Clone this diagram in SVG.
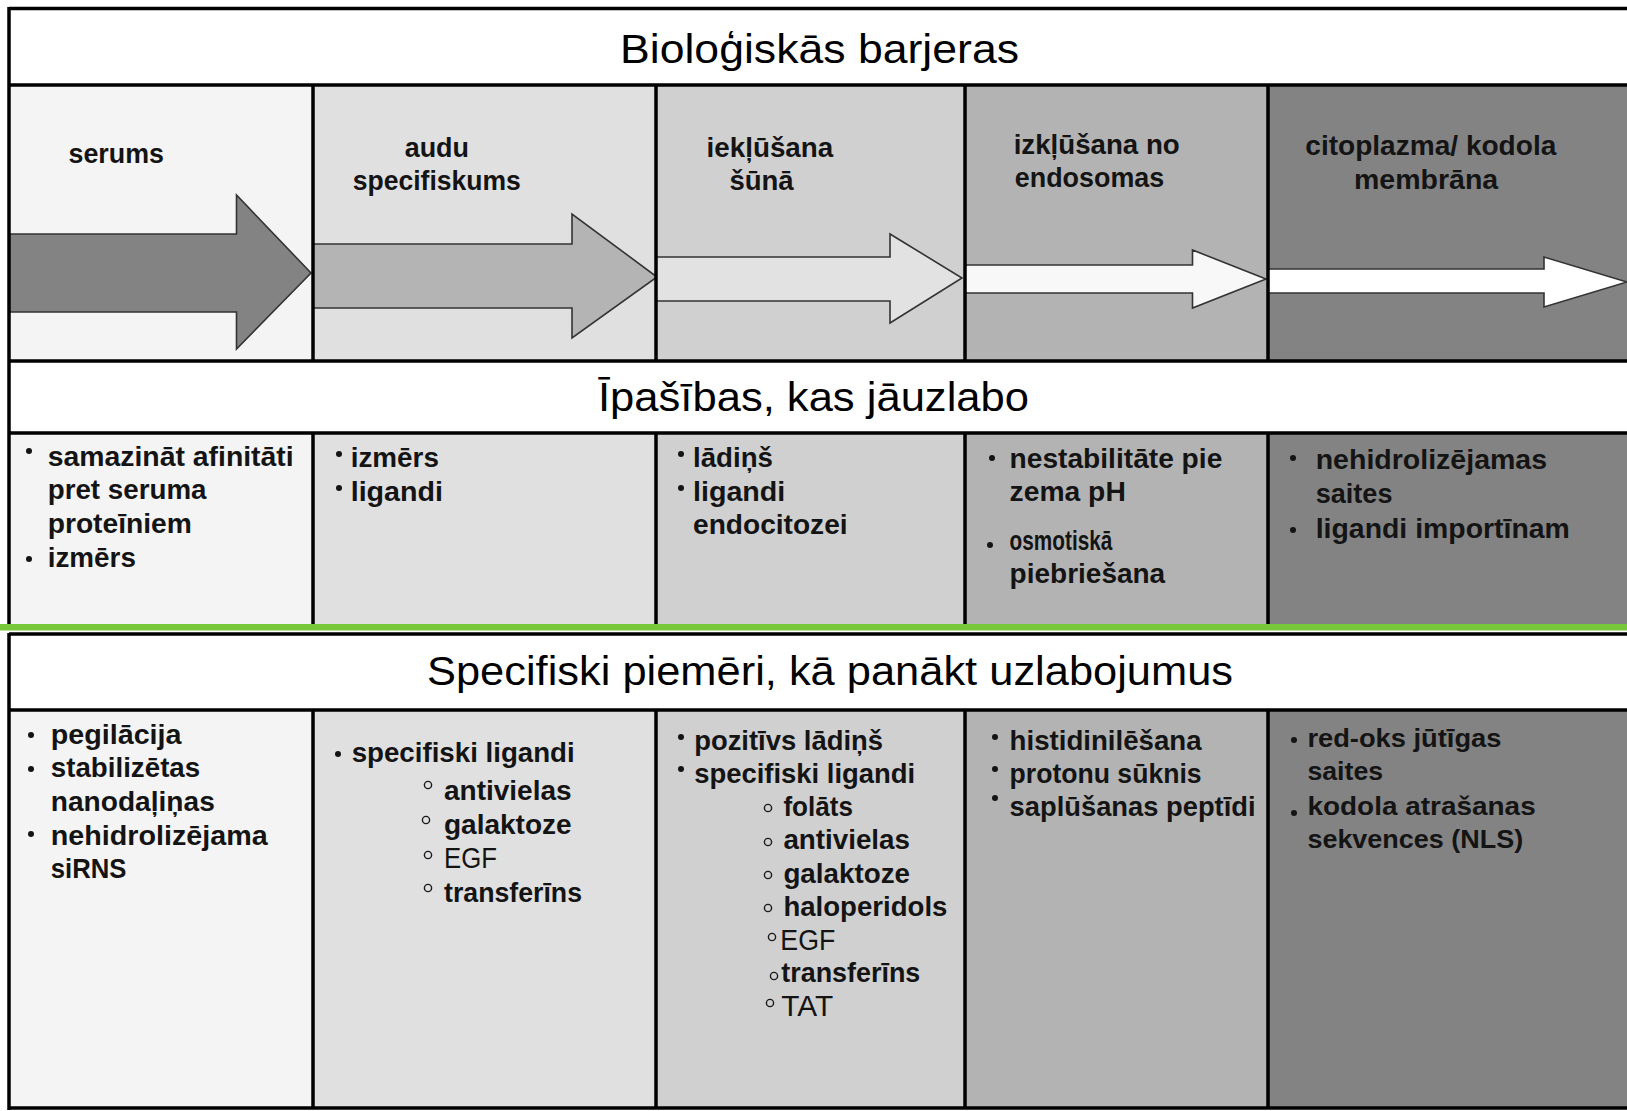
<svg xmlns="http://www.w3.org/2000/svg" width="1627" height="1111" viewBox="0 0 1627 1111">
<style>
.hdr{font-family:"Liberation Sans",Arial,sans-serif;font-size:40px;fill:#000}
.lb{font-family:"Liberation Sans Narrow","Liberation Sans",Arial,sans-serif;font-weight:bold;font-size:28px;fill:#141414}
.lr{font-family:"Liberation Sans",Arial,sans-serif;font-weight:bold;font-size:25px;fill:#141414}
.ln{font-family:"Liberation Sans Narrow","Liberation Sans",Arial,sans-serif;font-size:29px;fill:#141414}
.bul{fill:#141414}
.sub{fill:none;stroke:#1a1a1a;stroke-width:1.4}
.grid{stroke:#000;stroke-width:3.5;fill:none}
.arr{stroke:#333;stroke-width:1.6;stroke-linejoin:miter}
</style>
<rect x="0" y="0" width="1627" height="1111" fill="#fff"/>
<g id="bg">
<rect x="9" y="9" width="1618" height="76" fill="#fff"/>
<rect x="9" y="361" width="1618" height="72" fill="#fff"/>
<rect x="9" y="633" width="1618" height="77" fill="#fff"/>
</g>
<g id="stage-serums">
<rect x="9" y="85" width="304" height="276" fill="#f4f4f4"/>
<text class="lb" x="68.5" y="163" textLength="95.5" lengthAdjust="spacingAndGlyphs">serums</text>
</g>
<g id="stage-audu">
<rect x="313" y="85" width="343" height="276" fill="#e0e0e0"/>
<text class="lb" x="404.7" y="157" textLength="64.3" lengthAdjust="spacingAndGlyphs">audu</text>
<text class="lb" x="352.8" y="190" textLength="168" lengthAdjust="spacingAndGlyphs">specifiskums</text>
</g>
<g id="stage-ieklusana">
<rect x="656" y="85" width="309" height="276" fill="#d0d0d0"/>
<text class="lb" x="706.6" y="157" textLength="126.6" lengthAdjust="spacingAndGlyphs">iekļūšana</text>
<text class="lb" x="729.4" y="190" textLength="64.3" lengthAdjust="spacingAndGlyphs">šūnā</text>
</g>
<g id="stage-izklusana">
<rect x="965" y="85" width="303" height="276" fill="#b3b3b3"/>
<text class="lb" x="1013.7" y="154" textLength="166" lengthAdjust="spacingAndGlyphs">izkļūšana no</text>
<text class="lb" x="1014.8" y="187" textLength="149.4" lengthAdjust="spacingAndGlyphs">endosomas</text>
</g>
<g id="stage-citoplazma">
<rect x="1268" y="85" width="359" height="276" fill="#838383"/>
<text class="lb" x="1305.3" y="155" textLength="251" lengthAdjust="spacingAndGlyphs">citoplazma/ kodola</text>
<text class="lb" x="1354" y="189" textLength="144.2" lengthAdjust="spacingAndGlyphs">membrāna</text>
</g>
<g id="prop-1">
<rect x="9" y="433" width="304" height="194" fill="#f4f4f4"/>
<circle class="bul" cx="29" cy="451" r="3"/>
<text class="lb" x="47.7" y="466" textLength="246" lengthAdjust="spacingAndGlyphs">samazināt afinitāti</text>
<text class="lb" x="47.7" y="499" textLength="158.8" lengthAdjust="spacingAndGlyphs">pret seruma</text>
<text class="lb" x="47.7" y="533" textLength="144.2" lengthAdjust="spacingAndGlyphs">proteīniem</text>
<circle class="bul" cx="29" cy="559" r="3"/>
<text class="lb" x="47.7" y="567" textLength="88.2" lengthAdjust="spacingAndGlyphs">izmērs</text>
</g>
<g id="prop-2">
<rect x="313" y="433" width="343" height="194" fill="#e0e0e0"/>
<circle class="bul" cx="339" cy="454" r="3"/>
<text class="lb" x="350.7" y="467" textLength="88.2" lengthAdjust="spacingAndGlyphs">izmērs</text>
<circle class="bul" cx="339" cy="488" r="3"/>
<text class="lb" x="350.7" y="501" textLength="92.3" lengthAdjust="spacingAndGlyphs">ligandi</text>
</g>
<g id="prop-3">
<rect x="656" y="433" width="309" height="194" fill="#d0d0d0"/>
<circle class="bul" cx="681" cy="454" r="3"/>
<text class="lb" x="693" y="467" textLength="80" lengthAdjust="spacingAndGlyphs">lādiņš</text>
<circle class="bul" cx="681" cy="488" r="3"/>
<text class="lb" x="693" y="501" textLength="92.3" lengthAdjust="spacingAndGlyphs">ligandi</text>
<text class="lb" x="693" y="534" textLength="154.6" lengthAdjust="spacingAndGlyphs">endocitozei</text>
</g>
<g id="prop-4">
<rect x="965" y="433" width="303" height="194" fill="#b3b3b3"/>
<circle class="bul" cx="992" cy="458" r="3"/>
<text class="lb" x="1009.6" y="468" textLength="212.7" lengthAdjust="spacingAndGlyphs">nestabilitāte pie</text>
<text class="lb" x="1009.6" y="501" textLength="116.2" lengthAdjust="spacingAndGlyphs">zema pH</text>
<circle class="bul" cx="990" cy="545" r="3"/>
<text class="lb" x="1009.6" y="550" textLength="102.7" lengthAdjust="spacingAndGlyphs">osmotiskā</text>
<text class="lb" x="1009.6" y="583" textLength="155.6" lengthAdjust="spacingAndGlyphs">piebriešana</text>
</g>
<g id="prop-5">
<rect x="1268" y="433" width="359" height="194" fill="#838383"/>
<circle class="bul" cx="1293" cy="458" r="3"/>
<text class="lb" x="1315.7" y="469" textLength="231.4" lengthAdjust="spacingAndGlyphs">nehidrolizējamas</text>
<text class="lb" x="1315.7" y="503" textLength="76.8" lengthAdjust="spacingAndGlyphs">saites</text>
<circle class="bul" cx="1293" cy="530" r="3"/>
<text class="lb" x="1315.7" y="538" textLength="254.2" lengthAdjust="spacingAndGlyphs">ligandi importīnam</text>
</g>
<g id="ex-1">
<rect x="9" y="710" width="304" height="398" fill="#f4f4f4"/>
<circle class="bul" cx="31" cy="735" r="3"/>
<text class="lb" x="50.8" y="744" textLength="130.7" lengthAdjust="spacingAndGlyphs">pegilācija</text>
<circle class="bul" cx="31" cy="769" r="3"/>
<text class="lb" x="50.8" y="777" textLength="149.4" lengthAdjust="spacingAndGlyphs">stabilizētas</text>
<text class="lb" x="50.8" y="811" textLength="164" lengthAdjust="spacingAndGlyphs">nanodaļiņas</text>
<circle class="bul" cx="31" cy="834" r="3"/>
<text class="lb" x="50.8" y="845" textLength="216.9" lengthAdjust="spacingAndGlyphs">nehidrolizējama</text>
<text class="lb" x="50.8" y="878" textLength="75.7" lengthAdjust="spacingAndGlyphs">siRNS</text>
</g>
<g id="ex-2">
<rect x="313" y="710" width="343" height="398" fill="#e0e0e0"/>
<circle class="bul" cx="338" cy="754" r="3"/>
<text class="lb" x="351.7" y="762" textLength="223" lengthAdjust="spacingAndGlyphs">specifiski ligandi</text>
<circle class="sub" cx="428" cy="785" r="3.6"/>
<text class="lb" x="444" y="800" textLength="127.6" lengthAdjust="spacingAndGlyphs">antivielas</text>
<circle class="sub" cx="426" cy="820" r="3.6"/>
<text class="lb" x="444" y="834" textLength="127.6" lengthAdjust="spacingAndGlyphs">galaktoze</text>
<circle class="sub" cx="428" cy="855" r="3.6"/>
<text class="ln" x="444" y="868" textLength="53" lengthAdjust="spacingAndGlyphs">EGF</text>
<circle class="sub" cx="428" cy="888" r="3.6"/>
<text class="lb" x="444" y="902" textLength="138" lengthAdjust="spacingAndGlyphs">transferīns</text>
</g>
<g id="ex-3">
<rect x="656" y="710" width="309" height="398" fill="#d0d0d0"/>
<circle class="bul" cx="681" cy="737" r="3"/>
<text class="lb" x="694.2" y="750" textLength="188.8" lengthAdjust="spacingAndGlyphs">pozitīvs lādiņš</text>
<circle class="bul" cx="681" cy="769" r="3"/>
<text class="lb" x="694.2" y="783" textLength="221" lengthAdjust="spacingAndGlyphs">specifiski ligandi</text>
<circle class="sub" cx="768" cy="808" r="3.6"/>
<text class="lb" x="783.4" y="816" textLength="69.5" lengthAdjust="spacingAndGlyphs">folāts</text>
<circle class="sub" cx="768" cy="842" r="3.6"/>
<text class="lb" x="783.4" y="849" textLength="126.6" lengthAdjust="spacingAndGlyphs">antivielas</text>
<circle class="sub" cx="768" cy="875" r="3.6"/>
<text class="lb" x="783.4" y="883" textLength="126.6" lengthAdjust="spacingAndGlyphs">galaktoze</text>
<circle class="sub" cx="768" cy="908" r="3.6"/>
<text class="lb" x="783.4" y="916" textLength="164" lengthAdjust="spacingAndGlyphs">haloperidols</text>
<circle class="sub" cx="772" cy="937" r="3.6"/>
<text class="ln" x="780.3" y="950" textLength="55" lengthAdjust="spacingAndGlyphs">EGF</text>
<circle class="sub" cx="774" cy="976" r="3.6"/>
<text class="lb" x="781.3" y="982" textLength="139" lengthAdjust="spacingAndGlyphs">transferīns</text>
<circle class="sub" cx="770" cy="1003" r="3.6"/>
<text class="ln" x="781.3" y="1016" textLength="51.9" lengthAdjust="spacingAndGlyphs">TAT</text>
</g>
<g id="ex-4">
<rect x="965" y="710" width="303" height="398" fill="#b3b3b3"/>
<circle class="bul" cx="995" cy="737" r="3"/>
<text class="lb" x="1009.6" y="750" textLength="192" lengthAdjust="spacingAndGlyphs">histidinilēšana</text>
<circle class="bul" cx="995" cy="769" r="3"/>
<text class="lb" x="1009.6" y="783" textLength="192" lengthAdjust="spacingAndGlyphs">protonu sūknis</text>
<circle class="bul" cx="995" cy="798" r="3"/>
<text class="lb" x="1009.6" y="816" textLength="246" lengthAdjust="spacingAndGlyphs">saplūšanas peptīdi</text>
</g>
<g id="ex-5">
<rect x="1268" y="710" width="359" height="398" fill="#838383"/>
<circle class="bul" cx="1294" cy="740" r="3"/>
<text class="lr" x="1307.4" y="747" textLength="194" lengthAdjust="spacingAndGlyphs">red-oks jūtīgas</text>
<text class="lr" x="1307.4" y="780" textLength="75.7" lengthAdjust="spacingAndGlyphs">saites</text>
<circle class="bul" cx="1294" cy="813" r="3"/>
<text class="lr" x="1307.4" y="815" textLength="228.3" lengthAdjust="spacingAndGlyphs">kodola atrašanas</text>
<text class="lr" x="1307.4" y="848" textLength="215.8" lengthAdjust="spacingAndGlyphs">sekvences (NLS)</text>
</g>
<g id="header-barjeras">
<text class="hdr" x="620" y="63" textLength="399" lengthAdjust="spacingAndGlyphs">Bioloģiskās barjeras</text>
</g>
<g id="header-ipasibas">
<text class="hdr" x="598" y="411" textLength="431" lengthAdjust="spacingAndGlyphs">Īpašības, kas jāuzlabo</text>
</g>
<g id="header-piemeri">
<text class="hdr" x="427" y="685" textLength="806" lengthAdjust="spacingAndGlyphs">Specifiski piemēri, kā panākt uzlabojumus</text>
</g>
<g id="connectors">
<path class="arr" fill="#838383" d="M9 234 H236.5 V195 L311 273 L236.5 349 V312 H9 Z"/>
<path class="arr" fill="#b4b4b4" d="M313 244 H572 V214 L657 277 L572 338 V308 H313 Z"/>
<path class="arr" fill="#e2e2e2" d="M656 257 H890 V234 L962 278 L890 323 V301 H656 Z"/>
<path class="arr" fill="#f8f8f8" d="M965 265 H1192.5 V250 L1266 279 L1192.5 308 V293 H965 Z"/>
<path class="arr" fill="#ffffff" d="M1268 269 H1544 V257 L1627 282 L1544 307 V293 H1268 Z"/>
</g>
<g id="grid">
<path class="grid" d="M9 8.5 H1627 M9 85 H1627 M9 361 H1627 M9 433 H1627 M9 634 H1627 M9 710 H1627 M9 1108 H1627"/>
<path class="grid" stroke-width="3" d="M9 7 V627 M9 633 V1110 M313 85 V361 M656 85 V361 M965 85 V361 M1268 85 V361 M313 433 V627 M656 433 V627 M965 433 V627 M1268 433 V627 M313 710 V1108 M656 710 V1108 M965 710 V1108 M1268 710 V1108"/>
<rect x="0" y="624" width="1627" height="6.5" fill="#78c83c"/>
</g>
</svg>
